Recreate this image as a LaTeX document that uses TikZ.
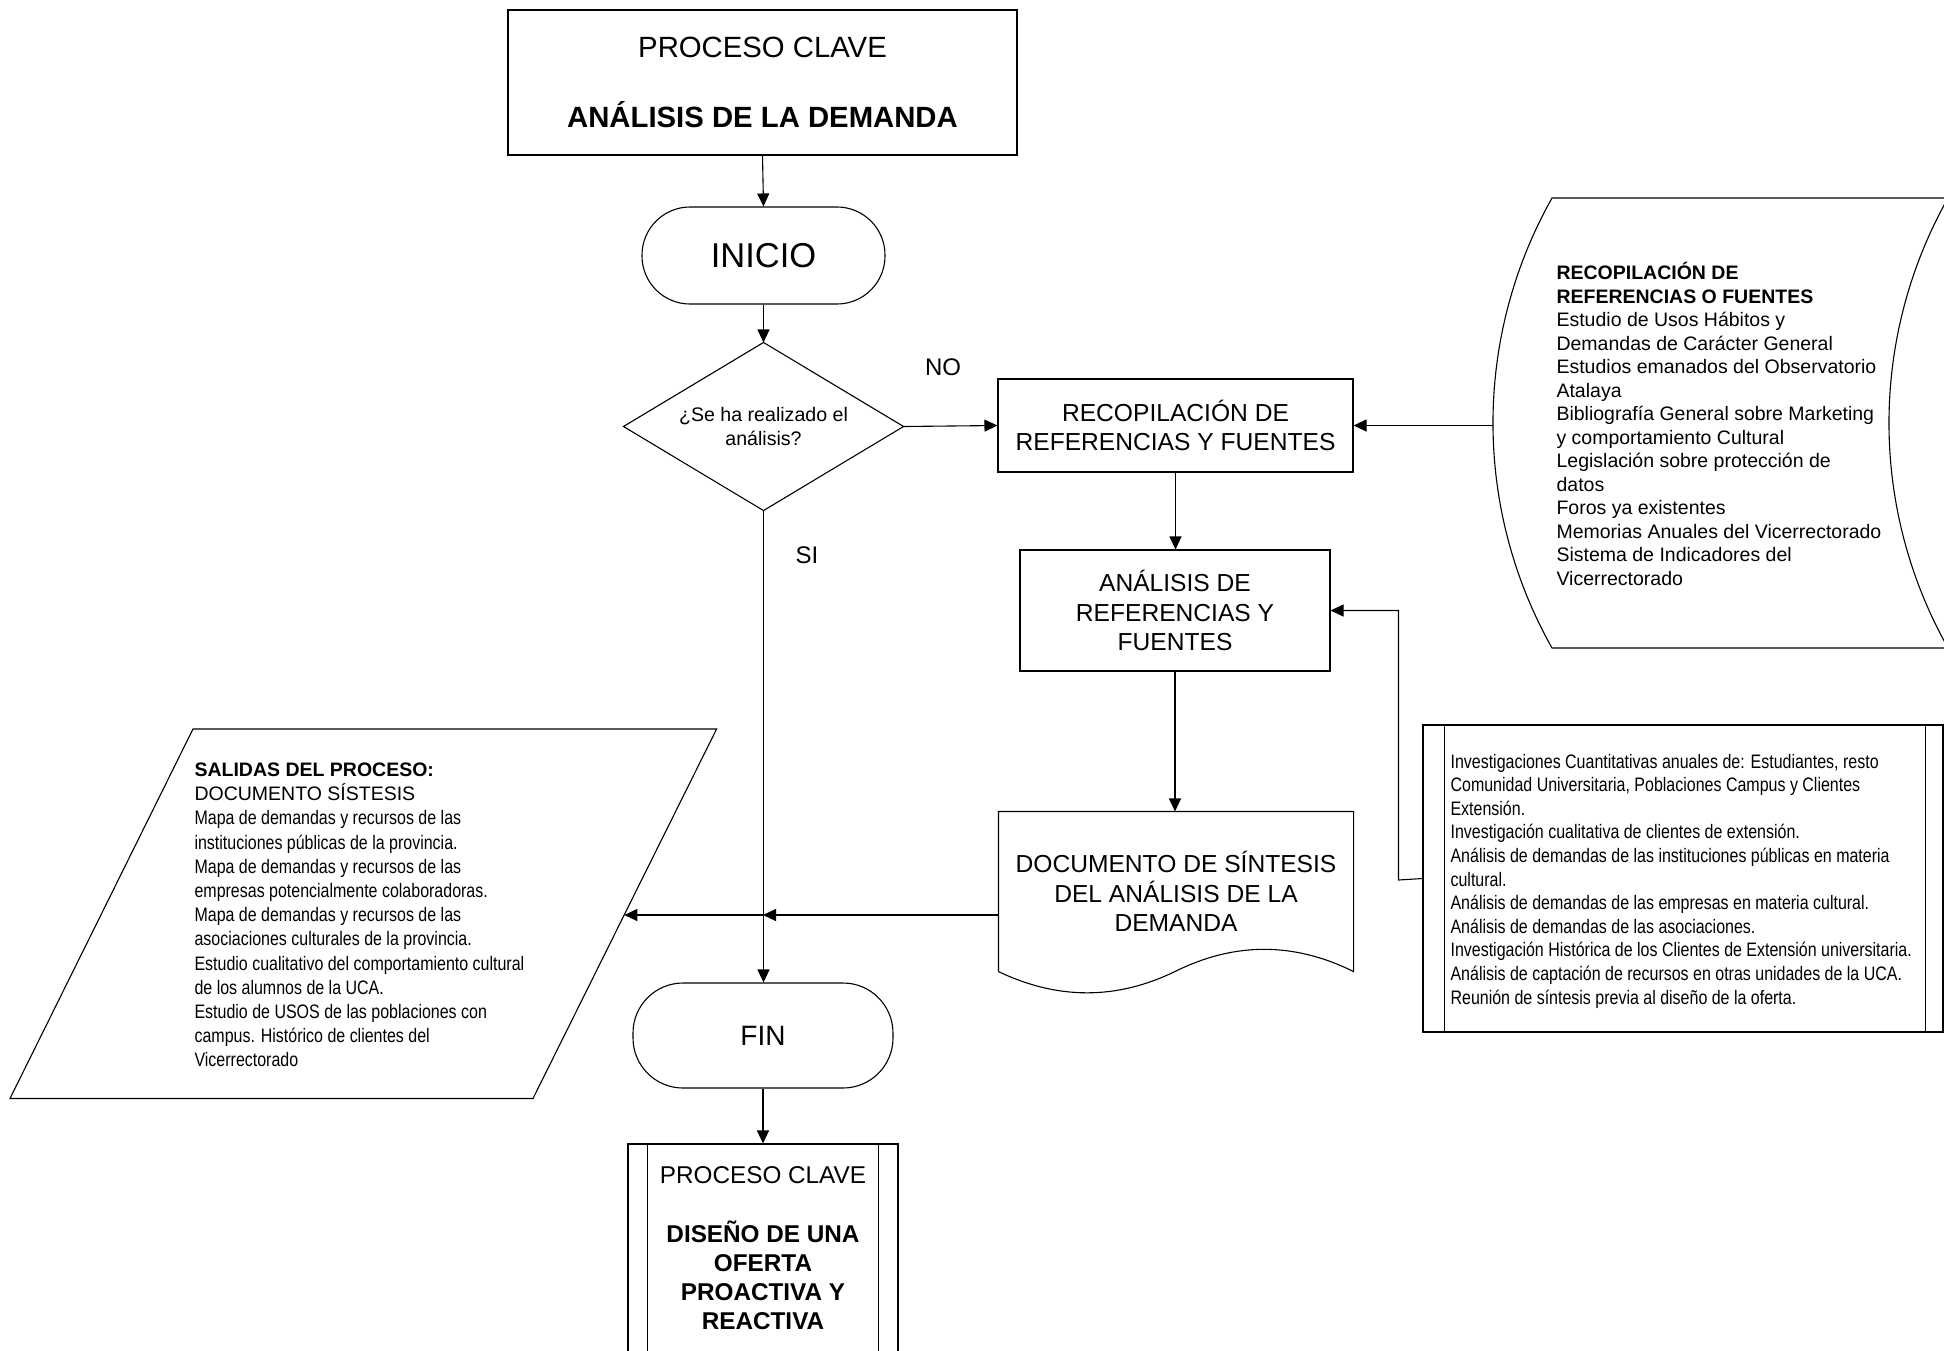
\documentclass[tikz,border=0pt]{standalone}
\usepackage{fontspec}
\setmainfont{Liberation Sans}
\newfontfamily\narrowfont[FakeStretch=0.82]{Liberation Sans}
\usetikzlibrary{arrows.meta,shapes.geometric}
\begin{document}
\begin{tikzpicture}[x=0.5pt,y=-0.5pt,line width=0.55pt,
  box/.style={draw,rectangle,inner sep=0pt,align=center},
  term/.style={draw,rectangle,inner sep=0pt,align=center},
  txt/.style={anchor=west,align=left,inner sep=0pt},
  arr/.style={-{Triangle[length=6.5pt,width=6pt]}}]
\useasboundingbox (0,0) rectangle (1944,1350);
\clip (0,0) rectangle (1944,1350);

% top process box
\node[box,minimum width=254.5pt,minimum height=72.5pt,font=\fontsize{14.65}{17.6}\selectfont] (top) at (762.5,82.5)
  {PROCESO CLAVE\\[17.6pt]\textbf{ANÁLISIS DE LA DEMANDA}};

% INICIO
\node[term,rounded corners=24pt,minimum width=121.5pt,minimum height=48.5pt,font=\fontsize{17.25}{20}\selectfont] (inicio) at (763.5,255.5) {INICIO};

% decision
\node[inner sep=0pt,minimum width=139.5pt,minimum height=83.5pt,align=center,font=\fontsize{9.8}{11.75}\selectfont] (dia) at (763.5,426.5)
  {¿Se ha realizado el\\análisis?};
\draw (dia.north) -- (dia.east) -- (dia.south) -- (dia.west) -- cycle;

% recopilacion
\node[box,minimum width=177.5pt,minimum height=46.5pt,font=\fontsize{12.3}{14.4}\selectfont] (recop) at (1175.5,425.5)
  {RECOPILACIÓN DE\\REFERENCIAS Y FUENTES};

% analisis
\node[box,minimum width=155pt,minimum height=60.5pt,font=\fontsize{12.3}{14.75}\selectfont] (anal) at (1175,610.5)
  {ANÁLISIS DE\\REFERENCIAS Y\\FUENTES};

% document
\node[inner sep=0pt,minimum width=177pt,minimum height=79.5pt,align=center,font=\fontsize{12.3}{14.9}\selectfont] (doc) at (1176,891.5)
  {DOCUMENTO DE SÍNTESIS\\DEL ANÁLISIS DE LA\\DEMANDA};
\draw (doc.south west) -- (doc.north west) -- (doc.north east) -- (doc.south east)
  .. controls (1294,942) and (1235,942) .. (1176,971)
  .. controls (1117,1000) and (1058,1000) .. (doc.south west);

% FIN
\node[term,rounded corners=25pt,minimum width=130pt,minimum height=52.5pt,font=\fontsize{14}{17}\selectfont] (fin) at (763,1035.5) {FIN};

% bottom predefined process
\node[box,minimum width=135pt,minimum height=104.5pt,font=\fontsize{12.15}{14.6}\selectfont] (proc2) at (763,1248.5)
  {PROCESO CLAVE\\[14.6pt]{\bfseries DISEÑO DE UNA}\\{\bfseries OFERTA}\\{\bfseries PROACTIVA Y}\\{\bfseries REACTIVA}};
\draw ([xshift=10pt]proc2.north west) -- ([xshift=10pt]proc2.south west);
\draw ([xshift=-10pt]proc2.north east) -- ([xshift=-10pt]proc2.south east);

% outputs parallelogram
\coordinate (sTL) at (193,729);
\coordinate (sTR) at (716.6,729);
\coordinate (sBR) at (533,1098.5);
\coordinate (sBL) at (10,1098.5);
\draw (sTL) -- (sTR) -- (sBR) -- (sBL) -- cycle;
\coordinate (salr) at (624.3,915);
\node[txt,font=\fontsize{9.75}{12.1}\selectfont] (saltext) at (194,915)
  {\textbf{SALIDAS DEL PROCESO:}\\DOCUMENTO SÍSTESIS\\
  {\narrowfont Mapa de demandas y recursos de las}\\
  {\narrowfont instituciones públicas de la provincia.}\\
  {\narrowfont Mapa de demandas y recursos de las}\\
  {\narrowfont empresas potencialmente colaboradoras.}\\
  {\narrowfont Mapa de demandas y recursos de las}\\
  {\narrowfont asociaciones culturales de la provincia.}\\
  {\narrowfont Estudio cualitativo del comportamiento cultural}\\
  {\narrowfont de los alumnos de la UCA.}\\
  {\narrowfont Estudio de USOS de las poblaciones con}\\
  {\narrowfont campus. Histórico de clientes del}\\
  {\narrowfont Vicerrectorado}};

% stored data (sources)
\draw (1552,198) -- (1948,198)
  .. controls (1869.3,337.8) and (1869.3,508.2) .. (1948,648)
  -- (1552,648)
  .. controls (1473.3,508.2) and (1473.3,337.8) .. (1552,198) -- cycle;
\coordinate (sdl) at (1493,425.5);
\node[txt,font=\fontsize{9.75}{11.75}\selectfont] (sdtext) at (1556,424)
  {\textbf{RECOPILACIÓN DE}\\\textbf{REFERENCIAS O FUENTES}\\
  Estudio de Usos Hábitos y\\
  Demandas de Carácter General\\
  Estudios emanados del Observatorio\\
  Atalaya\\
  Bibliografía General sobre Marketing\\
  y comportamiento Cultural\\
  Legislación sobre protección de\\
  datos\\
  Foros ya existentes\\
  Memorias Anuales del Vicerrectorado\\
  Sistema de Indicadores del\\
  Vicerrectorado};

% lower right predefined process
\node[draw,inner sep=0pt,minimum width=260pt,minimum height=153.5pt] (lrb) at (1683,878.5) {};
\draw ([xshift=11pt]lrb.north west) -- ([xshift=11pt]lrb.south west);
\draw ([xshift=-9pt]lrb.north east) -- ([xshift=-9pt]lrb.south east);
\node[txt,font=\narrowfont\fontsize{9.75}{11.8}\selectfont] (lrtext) at (1450,881)
  {Investigaciones Cuantitativas anuales de: Estudiantes, resto\\
  Comunidad Universitaria, Poblaciones Campus y Clientes\\
  Extensión.\\
  Investigación cualitativa de clientes de extensión.\\
  Análisis de demandas de las instituciones públicas en materia\\
  cultural.\\
  Análisis de demandas de las empresas en materia cultural.\\
  Análisis de demandas de las asociaciones.\\
  Investigación Histórica de los Clientes de Extensión universitaria.\\
  Análisis de captación de recursos en otras unidades de la UCA.\\
  Reunión de síntesis previa al diseño de la oferta.};
\coordinate (lrk) at (1398.5,880);

% labels
\node[font=\fontsize{12}{14}\selectfont] (no) at (943,367) {NO};
\node[font=\fontsize{12}{14}\selectfont] (si) at (807,555) {SI};

% connectors
\coordinate (j) at (763,915);
\draw[arr] (top.south) -- (inicio.north);
\draw[arr] (inicio.south) -- (dia.north);
\draw[arr] (dia.east) -- (recop.west);
\draw[arr] (recop.south) -- (recop.south |- anal.north);
\draw[arr] (anal.south) -- (anal.south |- doc.north);
\draw[arr] (sdl) -- (recop.east);
\draw[arr] (lrb.west) -- (lrk) |- (anal.east);
\draw[arr] (doc.west |- j) -- (j);
\draw[arr] (j) -- (salr);
\draw[arr] (dia.south) -- (dia.south |- fin.north);
\draw[arr] (fin.south) -- (proc2.north);
\end{tikzpicture}
\end{document}
